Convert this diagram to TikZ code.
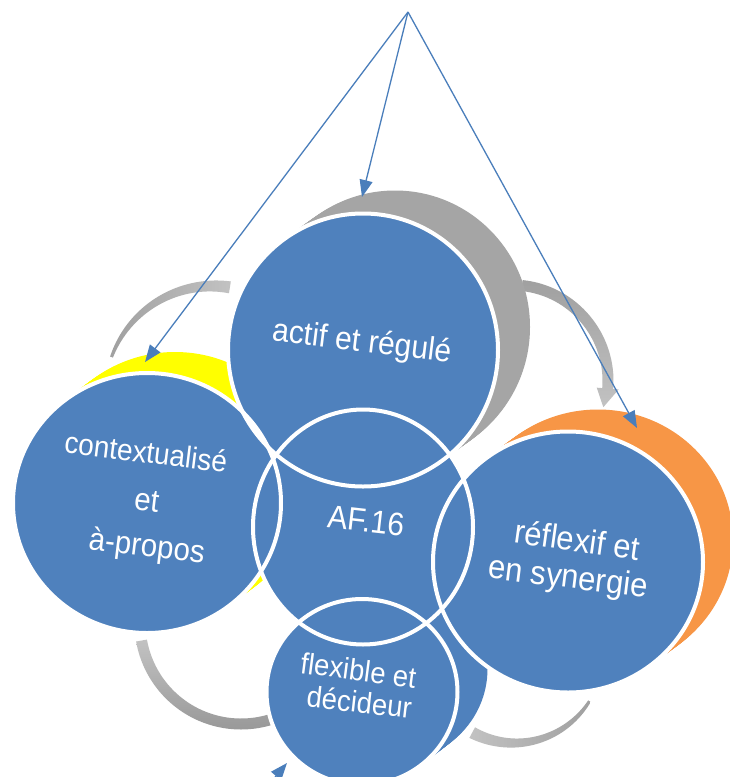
\documentclass[tikz,border=0pt]{standalone}
\usepackage{fontspec}
\setmainfont{Liberation Sans}
\usetikzlibrary{arrows.meta}
\definecolor{face}{HTML}{4F81BD}
\definecolor{rimgray}{HTML}{A5A5A5}
\definecolor{rimyellow}{HTML}{FFFF00}
\definecolor{rimorange}{HTML}{F79646}
\definecolor{arrowblue}{HTML}{4A7EBB}
\definecolor{cycA}{HTML}{C2C2C2}
\definecolor{cycB}{HTML}{A0A0A0}
\definecolor{cycC}{HTML}{989898}
\begin{document}
\begin{tikzpicture}[x=1pt,y=-1pt,
  lbl/.style={text=white, inner sep=0pt, text height=.7em, text depth=.2em},
  ptr/.style={draw=arrowblue, line width=1.3pt, -{Triangle[length=17pt,width=13pt]}},
  ring/.style={draw=white, line width=4pt},
]
\useasboundingbox (0,0) rectangle (730,777);
\clip (0,0) rectangle (730,777);
\fill[white] (0,0) rectangle (730,777);

% ---- cycle arrows (background) ----
% top-left
\shade[left color=cycB, right color=cycA]
  plot[domain=200:279,samples=40] ({213+(108+1.5+4.5*(\x-200)/79)*cos(\x)},{394+(108+1.5+4.5*(\x-200)/79)*sin(\x)})
  -- plot[domain=279:200,samples=40] ({213+(108-1.5-4.5*(\x-200)/79)*cos(\x)},{394+(108-1.5-4.5*(\x-200)/79)*sin(\x)})
  -- cycle;
% top-right with head
\begin{scope}[shift={(512,381)}]
\shade[top color=cycB, bottom color=cycA]
  (276:101.5) arc[start angle=276,end angle=364.5,radius=101.5]
  -- (364.5:107) -- (376:95) -- (364.5:85) -- (364.5:90.5)
  arc[start angle=364.5,end angle=276,radius=90.5] -- cycle;
\end{scope}
% bottom-left
\begin{scope}[shift={(241,623)}]
\shade[top color=cycA, bottom color=cycC]
  (170:106.5) arc[start angle=170,end angle=70,radius=106.5]
  -- (70:95.5) arc[start angle=70,end angle=170,radius=95.5] -- cycle;
\end{scope}
% bottom-right
\shade[left color=cycA, right color=cycB]
  plot[domain=118:32,samples=40] ({514+(89+6-4.5*(118-\x)/86)*cos(\x)},{654+(89+6-4.5*(118-\x)/86)*sin(\x)})
  -- plot[domain=32:118,samples=40] ({514+(89-6+4.5*(118-\x)/86)*cos(\x)},{654+(89-6+4.5*(118-\x)/86)*sin(\x)})
  -- cycle;

% ---- rims ----
\foreach \t in {0,0.05,...,1.001} {
  \fill[rimgray]   ({363+32*\t},{350-23*\t}) ellipse[x radius=135,y radius=136.5];
  \fill[rimyellow] ({147+28*\t},{503-21*\t}) ellipse[x radius=134,y radius=130];
  \fill[rimorange] ({568+30*\t},{562-22*\t}) ellipse[x radius=135,y radius=130.5];
  \fill[face]      ({362+30*\t},{692-23*\t}) ellipse[x radius=95.5,y radius=93];
}

% ---- faces ----
\coordinate (cA) at (363,350);
\coordinate (cC) at (147,503);
\coordinate (cR) at (568,562);
\coordinate (cF) at (362,692);
\coordinate (cM) at (363,527);
\fill[face] (cA) ellipse[x radius=135,y radius=136.5];
\fill[face] (cC) ellipse[x radius=134,y radius=130];
\fill[face] (cR) ellipse[x radius=135,y radius=130.5];
\fill[face] (cF) ellipse[x radius=95.5,y radius=93];
\fill[face] (cM) ellipse[x radius=110,y radius=117.5];
\draw[ring] (cA) ellipse[x radius=135,y radius=136.5];
\draw[ring] (cC) ellipse[x radius=134,y radius=130];
\draw[ring] (cR) ellipse[x radius=135,y radius=130.5];
\draw[ring] (cF) ellipse[x radius=95.5,y radius=93];
\draw[ring] (cM) ellipse[x radius=110,y radius=117.5];

% ---- labels ----
\node[lbl, font=\fontsize{30}{36}\selectfont, rotate=-7, yscale=1.08] (tA) at (361,349) {actif et régulé};
\node[lbl, font=\fontsize{28}{34}\selectfont, rotate=-7, yscale=1.08] (tC1) at (145,460) {contextualisé};
\node[lbl, font=\fontsize{29.5}{34}\selectfont, rotate=-7, yscale=1.08] (tC2) at (146,508) {et};
\node[lbl, font=\fontsize{29.5}{34}\selectfont, rotate=-7, yscale=1.08] (tC3) at (146,554) {à-propos};
\node[lbl, font=\fontsize{30}{36}\selectfont, rotate=-6.5, yscale=1.08] (tM) at (365,529) {AF.16};
\node[lbl, font=\fontsize{31}{36}\selectfont, rotate=-8, yscale=1.08] (tR1) at (576,549) {réflexif et};
\node[lbl, font=\fontsize{31}{36}\selectfont, rotate=-7, yscale=1.08] (tR2) at (567,585) {en synergie};
\node[lbl, font=\fontsize{27.5}{33}\selectfont, rotate=-7.4, yscale=1.08] (tF1) at (357.5,678) {flexible et};
\node[lbl, font=\fontsize{27.5}{33}\selectfont, rotate=-6.4, yscale=1.08] (tF2) at (358.5,710) {décideur};

% ---- pointer arrows ----
\coordinate (apex) at (408,12);
\coordinate (tipA) at (362,197);
\coordinate (tipC) at (145,362);
\coordinate (tipR) at (637,428);
\coordinate (tail) at (256,800);
\coordinate (tipF) at (287,763);
\draw[ptr] (apex) -- (tipA);
\draw[ptr] (apex) -- (tipC);
\draw[ptr] (apex) -- (tipR);
\draw[ptr] (tail) -- (tipF);
\end{tikzpicture}
\end{document}
